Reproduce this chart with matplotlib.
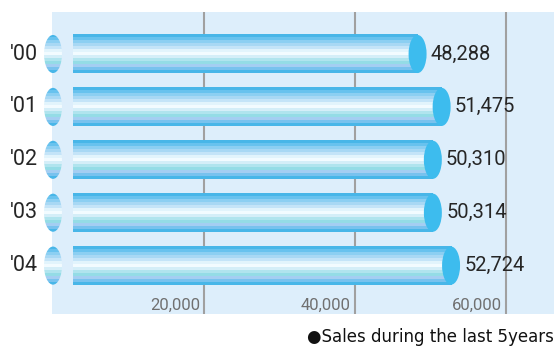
import matplotlib
matplotlib.use("Agg")
import matplotlib.pyplot as plt
import numpy as np
from matplotlib.colors import to_rgb
from matplotlib.patches import Ellipse

# data
years = ["′00", "′01", "′02", "′03", "′04"]
sales = [48288, 51475, 50310, 50314, 52724]
ticks = [20000, 40000, 60000]
caption = "●Sales during the last 5years"

# stripe colours of the cylinders, top to bottom
stripes = ["#48b6e8", "#68c2ee", "#8ccff2", "#a8d8f4", "#c4e4f8", "#e2f4fc",
           "#f2fbff", "#d4eef8", "#b0e4ee", "#94dce6", "#a4cef2", "#78c2ee", "#48b6e8"]
stripe_img = np.array([to_rgb(c) for c in stripes]).reshape(-1, 1, 3)

panel = "#ddeefb"
cap_color = "#3dbcee"
px = 20000 / 151          # data units per pixel
bar_h = 0.72
bar_start = 20 * px
cap_w = 18 * px
num_font = ["Roboto", "DejaVu Sans"]

fig = plt.figure(figsize=(5.54, 3.46), dpi=100)
ax = fig.add_axes([52 / 554, 32 / 346, 502 / 554, 302 / 346])
ax.set_facecolor(panel)
for s in ax.spines.values():
    s.set_visible(False)
ax.set_xticks([])
ax.set_yticks([])

for t in ticks:
    ax.axvline(t, color="#a0a0a0", lw=1.5, zorder=1)
    ax.text(t - 4 * px, 4.745, f"{t:,}", ha="right", va="center",
            fontsize=12, color="#707070", family=num_font)

for i, (yr, v) in enumerate(zip(years, sales)):
    top, bot = i - bar_h / 2, i + bar_h / 2
    # body
    ax.imshow(stripe_img, extent=[bar_start, v, bot, top], aspect="auto",
              interpolation="nearest", zorder=2)
    # left end
    ell = Ellipse((0, i), cap_w, bar_h, transform=ax.transData)
    im = ax.imshow(stripe_img, extent=[-cap_w / 2, cap_w / 2, bot, top],
                   aspect="auto", interpolation="nearest", zorder=2)
    im.set_clip_box(fig.bbox)
    im.set_clip_path(ell)
    # right cap
    ax.add_patch(Ellipse((v, i), cap_w, bar_h, color=cap_color, zorder=3, lw=0))
    ax.annotate(f"{v:,}", (v, i), xytext=(9.5, 0), textcoords="offset points",
                ha="left", va="center", fontsize=14.5, color="#262626",
                family=num_font, zorder=4)
    ax.text(-15 * px, i, yr, ha="right", va="center", fontsize=15.5,
            color="#262626", family=num_font, clip_on=False)

ax.set_xlim(-1 * px, 501 * px)
ax.set_ylim(4.915, -0.794)

fig.text(1.0, 1 - 342 / 346, caption, ha="right", va="baseline", fontsize=12,
         color="#111111",
         family=["DejaVu Sans Condensed", "Liberation Sans Narrow", "DejaVu Sans"])

fig.savefig("out.png", dpi=100)
plt.close(fig)
